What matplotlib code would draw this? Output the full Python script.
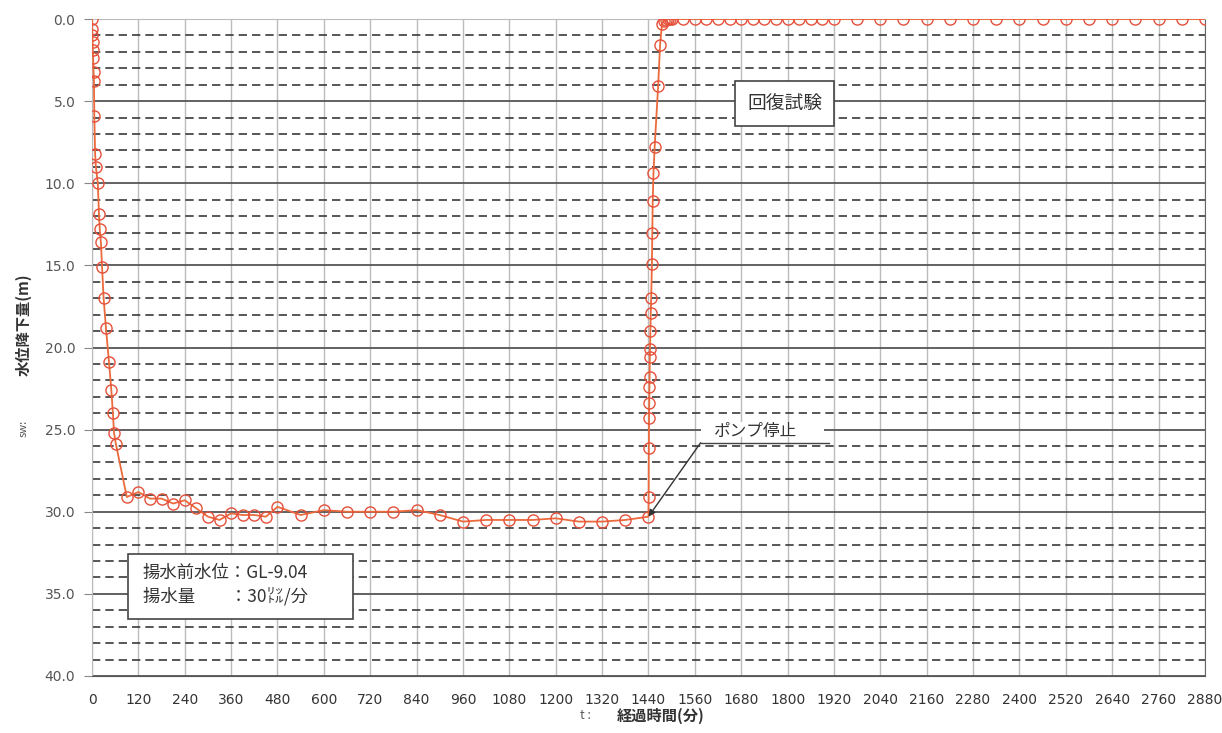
import numpy as np
import matplotlib.pyplot as plt
from matplotlib.patches import Rectangle

plt.rcParams['font.family'] = ['Noto Sans CJK JP', 'DejaVu Sans']

# 揚水試験 (pumping phase), t in minutes, drawdown in m
pump_t = [0, 0.5, 1, 1.5, 2, 3, 4, 5, 6, 8, 10, 15, 18, 20, 23, 26, 30, 36,
          44, 50, 54, 57, 62, 90, 120, 150, 180, 210, 240, 270, 300, 330,
          360, 390, 420, 450, 480, 540, 600, 660, 720, 780, 840, 900, 960,
          1020, 1080, 1140, 1200, 1260, 1320, 1380, 1440]
pump_s = [0.0, 0.6, 1.0, 1.4, 1.9, 2.4, 3.2, 3.8, 5.9, 8.2, 9.0, 10.0, 11.9,
          12.8, 13.6, 15.1, 17.0, 18.8, 20.9, 22.6, 24.0, 25.2, 25.9, 29.1,
          28.8, 29.2, 29.2, 29.5, 29.3, 29.8, 30.3, 30.5, 30.1, 30.2, 30.2,
          30.3, 29.7, 30.2, 29.9, 30.0, 30.0, 30.0, 29.9, 30.2, 30.6, 30.5,
          30.5, 30.5, 30.4, 30.6, 30.6, 30.5, 30.3]

# 回復試験 (recovery phase)
rec_t = [1440.5, 1441, 1441.5, 1442, 1442.5, 1443, 1443.5, 1444, 1445, 1446,
         1447, 1449, 1450, 1451, 1453, 1456, 1465, 1470, 1475, 1480, 1485,
         1490, 1495, 1500,
         1530, 1560, 1590, 1620, 1650, 1680, 1710, 1740, 1770, 1800, 1830,
         1860, 1890, 1920,
         1980, 2040, 2100, 2160, 2220, 2280, 2340, 2400, 2460, 2520, 2580,
         2640, 2700, 2760, 2820, 2880]
rec_s = [29.1, 26.1, 24.3, 23.4, 22.4, 21.8, 20.6, 20.1, 19.0, 17.9,
         17.0, 14.9, 13.0, 11.1, 9.4, 7.8, 4.1, 1.6, 0.3, 0.1, 0.05,
         0.0, 0.0, 0.0,
         0.0, 0.0, 0.0, 0.0, 0.0, 0.0, 0.0, 0.0, 0.0, 0.0, 0.0,
         0.0, 0.0, 0.0,
         0.0, 0.0, 0.0, 0.0, 0.0, 0.0, 0.0, 0.0, 0.0, 0.0, 0.0,
         0.0, 0.0, 0.0, 0.0, 0.0]

t = pump_t + rec_t
s = pump_s + rec_s
x_ticks = list(range(0, 2881, 120))
y_ticks = list(range(0, 41, 5))

fig = plt.figure(figsize=(12.22, 7.33), dpi=100)
ax = fig.add_axes([0.0753, 0.0778, 0.9107, 0.8962])

ax.plot(t, s, color='#ec6a3c', lw=1.3, marker='o', ms=8,
        mfc='none', mec='#e5503a', mew=1.0, zorder=5)

ax.set_xlim(0, 2880)
ax.set_ylim(40, 0)
ax.set_xticks(x_ticks)
ax.set_xticklabels([str(v) for v in x_ticks], fontsize=10, color='#333333',
                   family='DejaVu Sans')
ax.set_yticks(y_ticks)
ax.set_yticklabels(['%.1f' % v for v in y_ticks], fontsize=10, color='#555555',
                   family='DejaVu Sans')
ax.set_yticks(np.arange(0, 41, 1), minor=True)
ax.tick_params(axis='x', length=0, pad=12)
ax.tick_params(axis='y', which='major', length=6, color='#888888', pad=6)
ax.tick_params(axis='y', which='minor', length=0)

# grid
ax.xaxis.grid(True, color='#bcbcbc', lw=1.0)
ax.yaxis.grid(True, which='major', color='#555555', lw=1.3)
ax.yaxis.grid(True, which='minor', color='#3a3a3a', lw=1.2,
              linestyle=(0, (5, 3)))
ax.set_axisbelow(True)
for side, col in [('top', '#bbbbbb'), ('left', '#bbbbbb'),
                  ('right', '#666666'), ('bottom', '#555555')]:
    ax.spines[side].set_color(col)

# axis labels
fig.text(0.019, 0.415, 'sw:', rotation=90, fontsize=8, color='#555555',
         ha='center', va='center')
fig.text(0.019, 0.557, '水位降下量(m)', rotation=90, fontsize=11,
         fontweight='bold', color='#333333', ha='center', va='center')
fig.text(0.479, 0.024, 't :', fontsize=9, color='#555555',
         ha='center', va='center')
fig.text(0.541, 0.024, '経過時間(分)', fontsize=11, fontweight='bold',
         color='#333333', ha='center', va='center')

# 回復試験 label
ax.text(1792, 5.15, '回復試験', fontsize=13.5, color='#333333',
        ha='center', va='center', zorder=6,
        bbox=dict(boxstyle='square,pad=0.65', fc='white', ec='#444444', lw=1.2))

# ポンプ停止 label
ax.add_patch(Rectangle((1575, 24.55), 320, 0.9, fc='white', ec='none', zorder=3))
ax.text(1718, 25.1, 'ポンプ停止', fontsize=12, color='#333333',
        ha='center', va='center', zorder=6)
ax.plot([1575, 1907], [25.8, 25.8], color='#444444', lw=1.0, zorder=6)
ax.annotate('', xy=(1440, 30.3), xytext=(1575, 25.8), zorder=6,
            arrowprops=dict(arrowstyle='-|>', color='#333333', lw=1.0,
                            mutation_scale=10, shrinkA=0, shrinkB=0))

# 揚水条件 box
ax.add_patch(Rectangle((93, 32.56), 583, 3.96, fc='white', ec='#444444',
                       lw=1.2, zorder=6))
ax.text(132, 34.45, '揚水前水位：GL-9.04\n揚水量　　：30㍑/分',
        fontsize=12.5, color='#333333', ha='left', va='center',
        linespacing=1.3, zorder=7)

fig.savefig('out.png', dpi=100, facecolor='white')
